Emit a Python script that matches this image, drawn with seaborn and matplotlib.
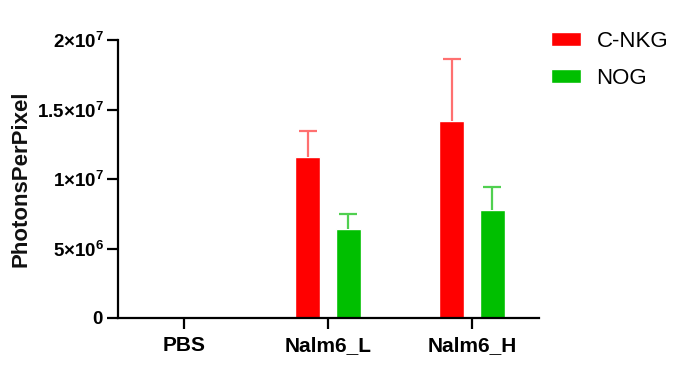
import matplotlib
matplotlib.use("Agg")
import matplotlib.pyplot as plt
import seaborn as sns
import pandas as pd
import numpy as np

categories = ["PBS", "Nalm6_L", "Nalm6_H"]
groups = ["C-NKG", "NOG"]
cnkg_mean = [0.0, 11.56e6, 14.17e6]
cnkg_sd = [0.0, 1.89e6, 4.46e6]
nog_mean = [0.0, 6.43e6, 7.75e6]
nog_sd = [0.0, 1.05e6, 1.67e6]
ytick_vals = [0, 5e6, 1e7, 1.5e7, 2e7]
ytick_labels = [r"$\mathbf{0}$", r"$\mathbf{5{\times}10^{6}}$", r"$\mathbf{1{\times}10^{7}}$",
                r"$\mathbf{1.5{\times}10^{7}}$", r"$\mathbf{2{\times}10^{7}}$"]

bar_colors = ["#ff0000", "#00bf00"]
err_colors = ["#ff7070", "#50d050"]

df = pd.DataFrame({
    "Group": categories * 2,
    "Mouse": [groups[0]] * 3 + [groups[1]] * 3,
    "Value": cnkg_mean + nog_mean,
})
sds = [cnkg_sd, nog_sd]

sns.set_style("ticks")
plt.rcParams["font.family"] = ["Liberation Sans", "DejaVu Sans"]
plt.rcParams["mathtext.fontset"] = "custom"
plt.rcParams["mathtext.rm"] = "Liberation Sans"
plt.rcParams["mathtext.bf"] = "Liberation Sans:bold"
plt.rcParams["text.color"] = "black"
plt.rcParams["axes.labelcolor"] = "black"

fig = plt.figure(figsize=(7.0, 3.68), dpi=100)
ax = fig.add_axes([118 / 700, 1 - 318 / 368, (539 - 118) / 700, (318 - 40) / 368])

sns.barplot(data=df, x="Group", y="Value", hue="Mouse", order=categories,
            hue_order=groups, palette=bar_colors, errorbar=None,
            width=0.56, gap=0.38, saturation=1, ax=ax, legend=True)

bar_containers = list(ax.containers)
for i, cont in enumerate(bar_containers):
    xs = [p.get_x() + p.get_width() / 2 for p in cont.patches]
    hs = [p.get_height() for p in cont.patches]
    for x, h, e in zip(xs, hs, sds[i]):
        if e > 0:
            _, caps, _ = ax.errorbar([x], [h], yerr=[[0], [e]], fmt="none",
                                     ecolor=err_colors[i], elinewidth=1.6,
                                     capsize=6.5, capthick=1.6, zorder=1)
            caps[0].set_visible(False)

ax.set_ylim(0, 2e7)
ax.set_xlim((118 - 184) / 144, (539 - 184) / 144)
ax.set_yticks(ytick_vals)
ax.set_yticklabels(ytick_labels, fontsize=13.5)
ax.set_xticks(range(len(categories)))
ax.set_xticklabels(categories, fontsize=15, fontweight="bold")
ax.set_xlabel("")
ax.set_ylabel("PhotonsPerPixel", fontsize=16, fontweight="bold", labelpad=4,
              color="#111111")

for s in ["top", "right"]:
    ax.spines[s].set_visible(False)
for s in ["left", "bottom"]:
    ax.spines[s].set_linewidth(1.6)
    ax.spines[s].set_color("black")
ax.tick_params(axis="both", length=8, width=1.6, colors="black", direction="out")
ax.tick_params(axis="x", pad=5)
ax.tick_params(axis="y", pad=2)

leg = ax.legend(loc="upper left", bbox_to_anchor=(551 / 700, 1 - 31 / 368),
                bbox_transform=fig.transFigure, frameon=False, fontsize=16,
                handlelength=1.35, handleheight=0.58, handletextpad=0.7,
                labelspacing=0.72, borderpad=0, borderaxespad=0)
for t in leg.get_texts():
    t.set_color("black")

fig.savefig("out.png", dpi=100)
